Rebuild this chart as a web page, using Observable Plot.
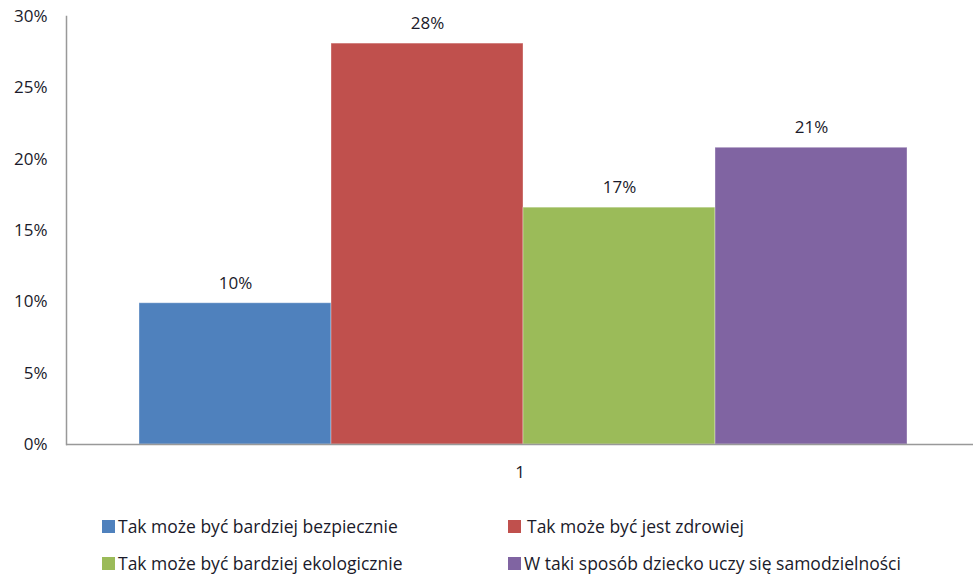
<!DOCTYPE html>
<html>
<head>
<meta charset="utf-8">
<script src="https://cdn.jsdelivr.net/npm/d3@7"></script>
<script src="https://cdn.jsdelivr.net/npm/@observablehq/plot@0.6"></script>
<style>
  body { margin: 0; background: #fff; font-family: "Open Sans", sans-serif; overflow: hidden; }
  #chart svg { display: block; }
  .legend { position: relative; height: 82px; font-size: 17.5px; color: #1a1a2a; }
  .item { position: absolute; display: flex; align-items: center; white-space: nowrap; height: 22px; line-height: 22px; }
  .sw { width: 13px; height: 13px; }
</style>
</head>
<body>
<div id="chart"></div>
<div class="legend" id="legend"></div>
<script>
const categories = ["1"];
const series = [
  "Tak może być bardziej bezpiecznie",
  "Tak może być jest zdrowiej",
  "Tak może być bardziej ekologicznie",
  "W taki sposób dziecko uczy się samodzielności"
];
const values = [0.099, 0.281, 0.166, 0.208];
const colors = ["#4F81BD", "#C0504D", "#9BBB59", "#8064A2"];
const yTicks = [0, 0.05, 0.10, 0.15, 0.20, 0.25, 0.30];

const data = series.map((s, i) => ({cat: categories[0], series: s, value: values[i]}));
const pct = d3.format(".0%");

const chart = Plot.plot({
  width: 974,
  height: 495,
  marginLeft: 66,
  marginRight: 1,
  marginTop: 16,
  marginBottom: 51,
  style: {fontFamily: "'Open Sans', sans-serif", fontSize: "17px", color: "#1a1a2a"},
  fx: {domain: categories, label: null, padding: 0},
  x: {domain: series, paddingInner: 0, paddingOuter: 0.356, align: 0.525, axis: null},
  y: {domain: [0, 0.30], ticks: yTicks, tickFormat: pct, label: null},
  color: {domain: series, range: colors},
  marks: [
    Plot.axisY({ticks: yTicks, tickFormat: pct, tickSize: 0, tickPadding: 19, label: null, fontSize: 17}),
    Plot.axisFx({anchor: "bottom", tickSize: 0, tickPadding: 21, label: null, fontSize: 17}),
    Plot.barY(data, {fx: "cat", x: "series", y: "value", fill: "series", stroke: "white", strokeOpacity: 0.35, strokeWidth: 1}),
    Plot.text(data, {fx: "cat", x: "series", y: "value", text: d => pct(d.value), dy: -20, fontSize: 17, fill: "#1a1a2a"}),
    Plot.frame({anchor: "left", stroke: "#999", strokeWidth: 1.5}),
    Plot.ruleY([0], {stroke: "#999", strokeWidth: 1.5})
  ]
});
document.getElementById("chart").appendChild(chart);

const legend = document.getElementById("legend");
const pos = [[102, 20, 3], [508, 20, 6], [102, 57, 3], [508, 57, 3]];
series.forEach((s, i) => {
  const it = document.createElement("div");
  it.className = "item";
  it.style.left = pos[i][0] + "px";
  it.style.top = pos[i][1] + "px";
  it.innerHTML = `<span class="sw" style="background:${colors[i]};margin-right:${pos[i][2]}px"></span><span>${s}</span>`;
  legend.appendChild(it);
});
</script>
</body>
</html>
